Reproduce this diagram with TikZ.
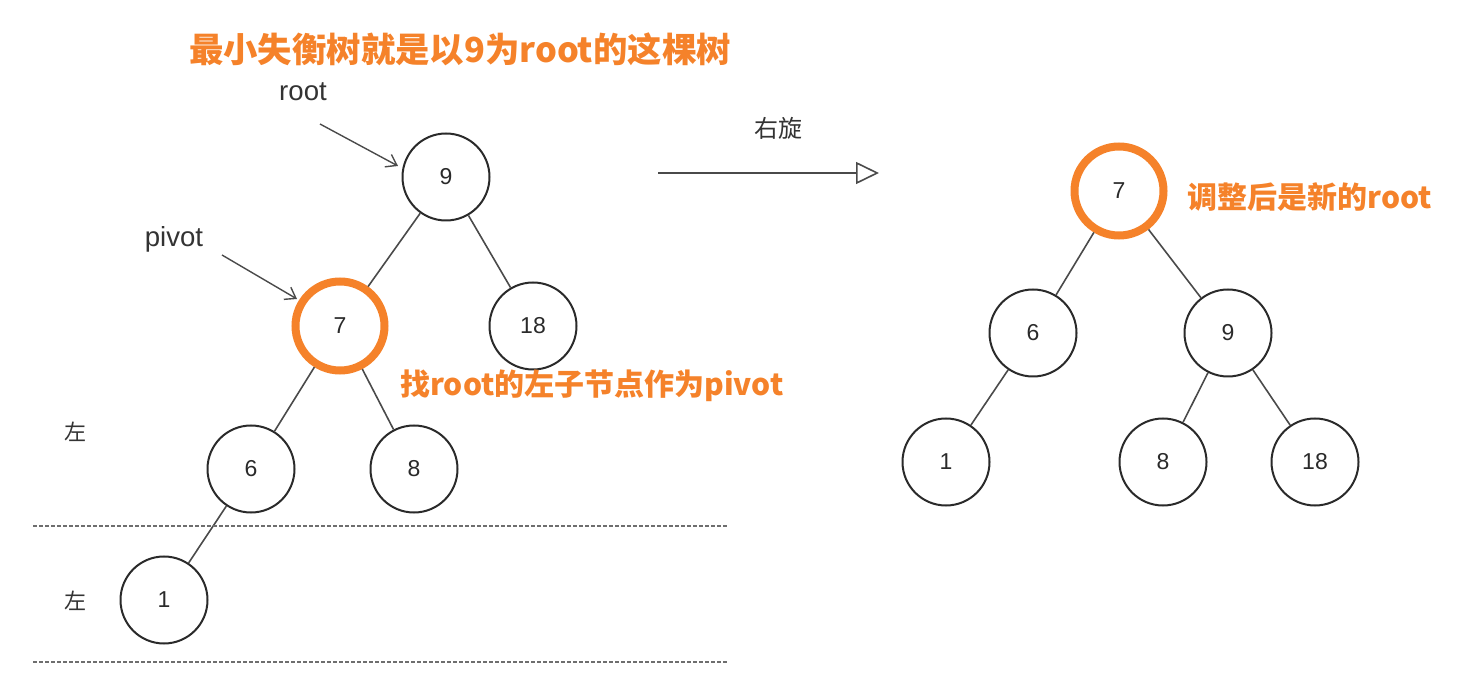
\documentclass[tikz,border=0pt]{standalone}
\usepackage{fontspec}
\setmainfont{Liberation Sans}
\newfontfamily\cjk{Noto Sans CJK SC}
\usetikzlibrary{arrows.meta}
\definecolor{hl}{HTML}{F5822A}
\definecolor{ink}{HTML}{2A2A2A}
\definecolor{edgec}{HTML}{4A4A4A}
\definecolor{labc}{HTML}{333333}
\tikzset{
  tnode/.style={circle, draw=ink, line width=1pt, minimum size=43.5pt, inner sep=0pt, font=\fontsize{11.5}{13}\selectfont, text=ink},
  hinode/.style={tnode, draw=hl, line width=4pt, minimum size=44.5pt},
  tedge/.style={draw=edgec, line width=0.8pt},
  ptr/.style={draw=edgec, line width=0.7pt, -{Straight Barb[length=5pt,width=7pt]}},
  rot/.style={draw=edgec, line width=0.8pt, -{Triangle[open, length=11.5pt, width=11pt, line width=0.8pt]}},
  sep/.style={draw=edgec!80, line width=0.6pt, dash pattern=on 2pt off 1pt},
  hltext/.style={text=hl, font=\cjk\bfseries\fontsize{15}{17}\selectfont, inner sep=0pt},
  ptrlabel/.style={text=labc, font=\fontsize{13.8}{15}\selectfont, inner sep=0pt},
  sidelabel/.style={text=labc, font=\cjk\fontsize{11}{13}\selectfont, inner sep=0pt},
}
\begin{document}
\begin{tikzpicture}[x=0.5pt, y=-0.5pt]
\useasboundingbox (0,0) rectangle (1467,689);

% title
\node[hltext, font=\cjk\bfseries\fontsize{17.2}{19}\selectfont] (title) at (460,49) {最小失衡树就是以9为root的这棵树};

% left tree
\node[tnode] (l9) at (446,177) {9};
\node[hinode] (l7) at (340,326) {7};
\node[tnode] (l18) at (533,326) {18};
\node[tnode] (l6) at (251,469) {6};
\node[tnode] (l8) at (414,469) {8};
\node[tnode] (l1) at (164,600) {1};
\draw[tedge] (l9) -- (l7);
\draw[tedge] (l9) -- (l18);
\draw[tedge] (l7) -- (l6);
\draw[tedge] (l7) -- (l8);
\draw[tedge] (l6) -- (l1);

% pointers
\node[ptrlabel] (rootlbl) at (303,92) {root};
\node[ptrlabel] (pivotlbl) at (174,239) {pivot};
\coordinate (rootfrom) at (320,124);
\coordinate (rootto) at (398,166);
\coordinate (pivotfrom) at (222,255);
\coordinate (pivotto) at (297,299);
\draw[ptr] (rootfrom) -- (rootto);
\draw[ptr] (pivotfrom) -- (pivotto);

\node[hltext, anchor=west] (findtxt) at (400,386) {找root的左子节点作为pivot};

% level labels and separators
\node[sidelabel] (lv1) at (75,432) {左};
\node[sidelabel] (lv2) at (75,601) {左};
\coordinate (s1a) at (33,526);
\coordinate (s1b) at (728,526);
\coordinate (s2a) at (33,662);
\coordinate (s2b) at (728,662);
\draw[sep] (s1a) -- (s1b);
\draw[sep] (s2a) -- (s2b);

% rotation arrow
\coordinate (rfrom) at (658,173);
\coordinate (rto) at (879,173);
\draw[rot] (rfrom) -- (rto);
\node[sidelabel, font=\cjk\fontsize{12}{14}\selectfont] (rotlbl) at (778,128) {右旋};

% right tree
\node[hinode] (r7) at (1119,191) {7};
\node[tnode] (r6) at (1033,333) {6};
\node[tnode] (r9) at (1228,333) {9};
\node[tnode] (r1) at (946,462) {1};
\node[tnode] (r8) at (1163,462) {8};
\node[tnode] (r18) at (1315,462) {18};
\draw[tedge] (r7) -- (r6);
\draw[tedge] (r7) -- (r9);
\draw[tedge] (r6) -- (r1);
\draw[tedge] (r9) -- (r8);
\draw[tedge] (r9) -- (r18);

\node[hltext, anchor=west] (newroot) at (1187,197) {调整后是新的root};
\end{tikzpicture}
\end{document}
